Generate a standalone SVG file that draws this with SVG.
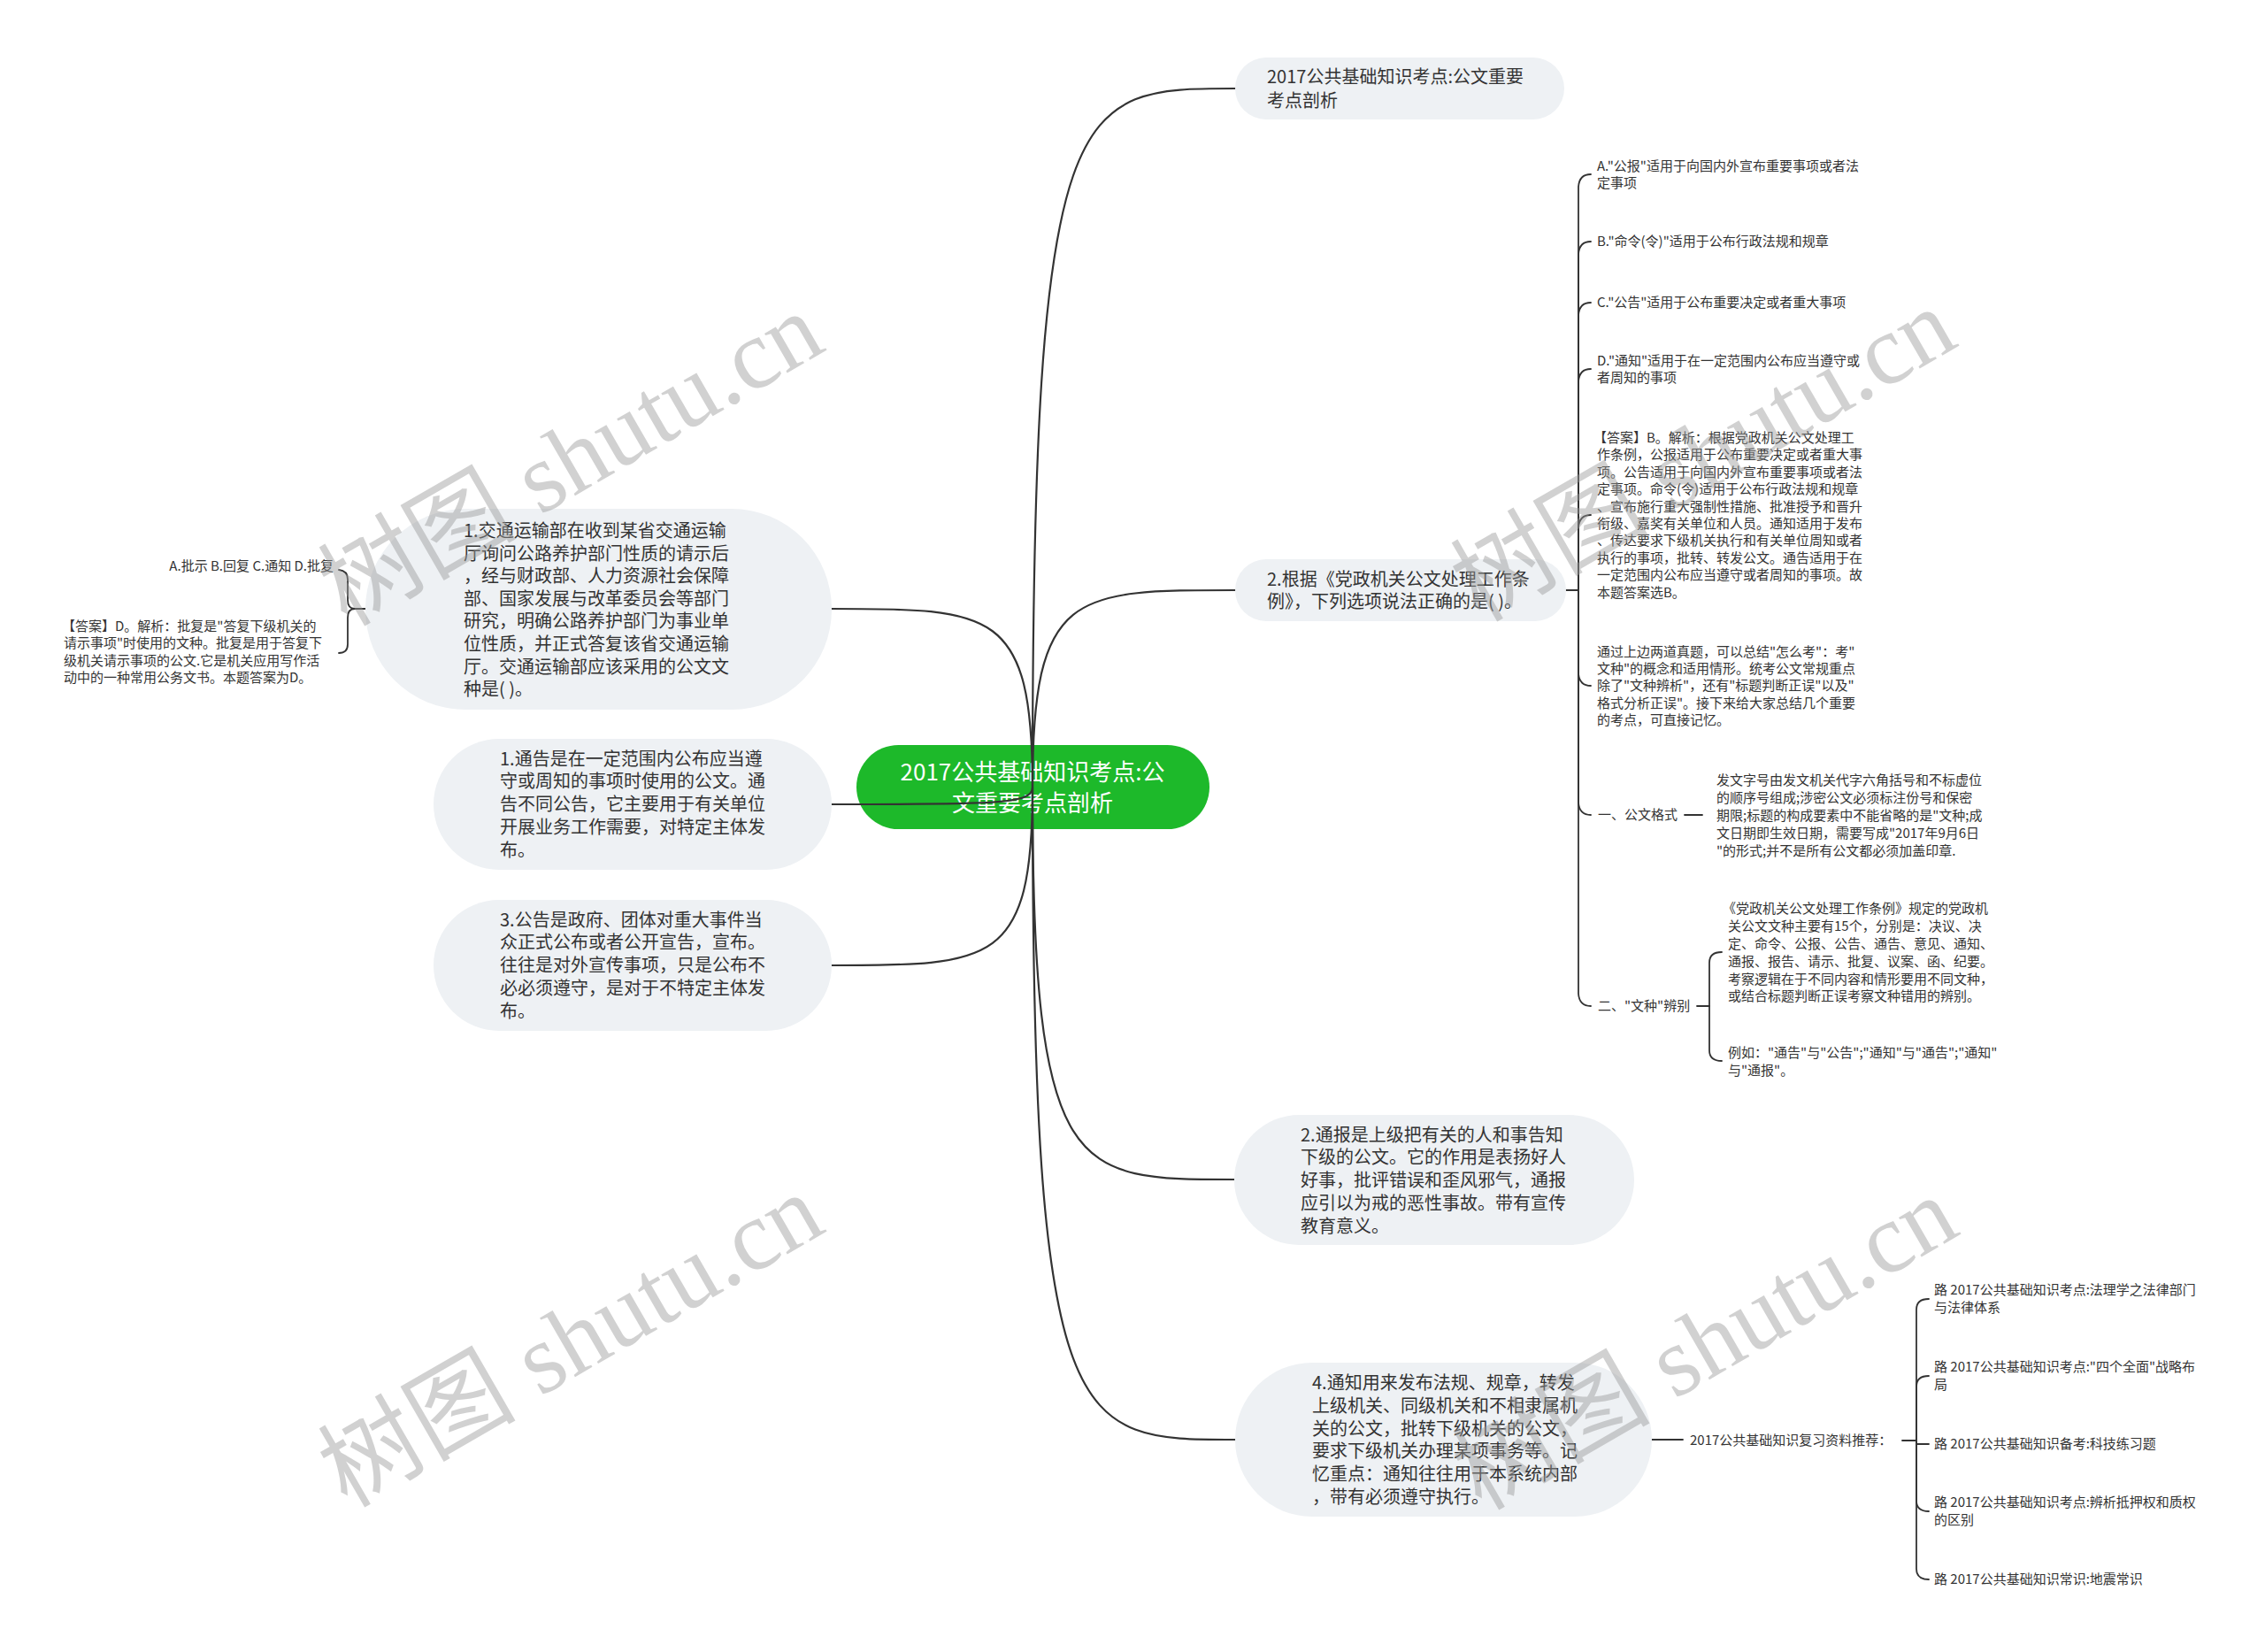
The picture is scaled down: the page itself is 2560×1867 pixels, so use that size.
<svg xmlns="http://www.w3.org/2000/svg" width="2560" height="1867" viewBox="0 0 2560 1867">
<style>
text{font-family:"Noto Sans CJK SC","Liberation Sans",sans-serif;fill:#333}
.n{fill:#eef1f4}
.t20{font-size:20px}
.t15{font-size:15px}
.c{font-size:26px;fill:#fff;text-anchor:middle}
.ln{fill:none;stroke:#333;stroke-width:2.2;stroke-linecap:round}
.sl{fill:none;stroke:#333;stroke-width:1.8;stroke-linecap:round}
.wm{font-family:"Liberation Serif","Noto Sans CJK SC",serif;font-size:112px;fill:#9a9a9a;opacity:.45;text-anchor:middle}
</style>
<rect width="2560" height="1867" fill="#fff"/>
<g id="center">
<rect x="968" y="842" width="399" height="95" rx="47.5" fill="#1db92a"/>
<text class="c" x="1167" y="882">2017公共基础知识考点:公</text>
<text class="c" x="1167" y="917">文重要考点剖析</text>
</g>
<g id="connectors">
<path class="ln" d="M1167 890 C1167 100,1213 100,1396 100"/>
<path class="ln" d="M1167 890 C1167 667,1213 667,1396 667"/>
<path class="ln" d="M1167 890 C1167 1333,1213 1333,1395 1333"/>
<path class="ln" d="M1167 890 C1167 1627,1213 1627,1396 1627"/>
<path class="ln" d="M1167 890 C1167 688,1122 688,940 688"/>
<path class="ln" d="M1167 890 C1167 909,1122 909,940 909"/>
<path class="ln" d="M1167 890 C1167 1091,1122 1091,940 1091"/>
<path class="sl" d="M1770 667 L1784 667"/>
<path class="sl" d="M1784 667 L1784 211 Q1785 197 1798 197"/>
<path class="sl" d="M1784 667 L1784 287 Q1785 273 1798 273"/>
<path class="sl" d="M1784 667 L1784 356 Q1785 342 1798 342"/>
<path class="sl" d="M1784 667 L1784 431 Q1785 417 1798 417"/>
<path class="sl" d="M1784 667 L1784 596 Q1785 582 1798 582"/>
<path class="sl" d="M1784 667 L1784 761 Q1785 775 1798 775"/>
<path class="sl" d="M1784 667 L1784 907 Q1785 921 1798 921"/>
<path class="sl" d="M1784 667 L1784 1123 Q1785 1137 1798 1137"/>
<path class="sl" d="M1904 921 L1924 921"/>
<path class="sl" d="M1918 1137 L1932 1137"/>
<path class="sl" d="M1932 1137 L1932 1088 Q1932 1076 1946 1076"/>
<path class="sl" d="M1932 1137 L1932 1187 Q1932 1199 1946 1199"/>
<path class="sl" d="M1867 1627 L1902 1627"/>
<path class="sl" d="M2150 1628 L2166 1628"/>
<path class="sl" d="M2166 1628 L2166 1480 Q2166 1468 2180 1468"/>
<path class="sl" d="M2166 1628 L2166 1567 Q2166 1555 2180 1555"/>
<path class="sl" d="M2166 1628 L2166 1632 L2180 1632"/>
<path class="sl" d="M2166 1628 L2166 1696 Q2166 1708 2180 1708"/>
<path class="sl" d="M2166 1628 L2166 1773 Q2166 1785 2180 1785"/>
<path class="sl" d="M413 688 L401 688 Q393 688 393 678 L393 655 Q393 645 383 644"/>
<path class="sl" d="M401 688 Q393 688 393 698 L393 728 Q393 738 383 738"/>
</g>
<g id="n-top">
<rect class="n" x="1396" y="65" width="372" height="70" rx="35"/>
<text class="t20" x="1432" y="94">2017公共基础知识考点:公文重要</text>
<text class="t20" x="1432" y="121">考点剖析</text>
</g>
<g id="n-q2">
<rect class="n" x="1396" y="632" width="374" height="70" rx="35"/>
<text class="t20" x="1432" y="662">2.根据《党政机关公文处理工作条</text>
<text class="t20" x="1432" y="687">例》，下列选项说法正确的是( )。</text>
</g>
<g id="n-a">
<text class="t15" x="1805" y="193">A."公报"适用于向国内外宣布重要事项或者法</text>
<text class="t15" x="1805" y="212">定事项</text>
</g>
<g id="n-b"><text class="t15" x="1805" y="278">B."命令(令)"适用于公布行政法规和规章</text></g>
<g id="n-c"><text class="t15" x="1805" y="347">C."公告"适用于公布重要决定或者重大事项</text></g>
<g id="n-d">
<text class="t15" x="1805" y="413">D."通知"适用于在一定范围内公布应当遵守或</text>
<text class="t15" x="1805" y="432">者周知的事项</text>
</g>
<g id="n-ans2">
<text class="t15" x="1801" y="500">【答案】B。解析：根据党政机关公文处理工</text>
<text class="t15" x="1805" y="519">作条例，公报适用于公布重要决定或者重大事</text>
<text class="t15" x="1805" y="539">项。公告适用于向国内外宣布重要事项或者法</text>
<text class="t15" x="1805" y="558">定事项。命令(令)适用于公布行政法规和规章</text>
<text class="t15" x="1805" y="578">、宣布施行重大强制性措施、批准授予和晋升</text>
<text class="t15" x="1805" y="597">衔级、嘉奖有关单位和人员。通知适用于发布</text>
<text class="t15" x="1805" y="616">、传达要求下级机关执行和有关单位周知或者</text>
<text class="t15" x="1805" y="636">执行的事项，批转、转发公文。通告适用于在</text>
<text class="t15" x="1805" y="655">一定范围内公布应当遵守或者周知的事项。故</text>
<text class="t15" x="1805" y="675">本题答案选B。</text>
</g>
<g id="n-sum">
<text class="t15" x="1805" y="742">通过上边两道真题，可以总结"怎么考"：考"</text>
<text class="t15" x="1805" y="761">文种"的概念和适用情形。统考公文常规重点</text>
<text class="t15" x="1805" y="780">除了"文种辨析"，还有"标题判断正误"以及"</text>
<text class="t15" x="1805" y="800">格式分析正误"。接下来给大家总结几个重要</text>
<text class="t15" x="1805" y="819">的考点，可直接记忆。</text>
</g>
<g id="n-fmt"><text class="t15" x="1806" y="926">一、公文格式</text></g>
<g id="n-fmt-c">
<text class="t15" x="1940" y="887">发文字号由发文机关代字六角括号和不标虚位</text>
<text class="t15" x="1940" y="907">的顺序号组成;涉密公文必须标注份号和保密</text>
<text class="t15" x="1940" y="927">期限;标题的构成要素中不能省略的是"文种;成</text>
<text class="t15" x="1940" y="947">文日期即生效日期，需要写成"2017年9月6日</text>
<text class="t15" x="1940" y="967">"的形式;并不是所有公文都必须加盖印章.</text>
</g>
<g id="n-wz"><text class="t15" x="1806" y="1142">二、"文种"辨别</text></g>
<g id="n-wz1">
<text class="t15" x="1947" y="1032">《党政机关公文处理工作条例》规定的党政机</text>
<text class="t15" x="1953" y="1052">关公文文种主要有15个，分别是：决议、决</text>
<text class="t15" x="1953" y="1072">定、命令、公报、公告、通告、意见、通知、</text>
<text class="t15" x="1953" y="1092">通报、报告、请示、批复、议案、函、纪要。</text>
<text class="t15" x="1953" y="1112">考察逻辑在于不同内容和情形要用不同文种，</text>
<text class="t15" x="1953" y="1131">或结合标题判断正误考察文种错用的辨别。</text>
</g>
<g id="n-wz2">
<text class="t15" x="1953" y="1195">例如："通告"与"公告";"通知"与"通告";"通知"</text>
<text class="t15" x="1953" y="1215">与"通报"。</text>
</g>
<g id="n-tb">
<rect class="n" x="1395" y="1260" width="452" height="147" rx="73.5"/>
<text class="t20" x="1470" y="1290">2.通报是上级把有关的人和事告知</text>
<text class="t20" x="1470" y="1315">下级的公文。它的作用是表扬好人</text>
<text class="t20" x="1470" y="1341">好事，批评错误和歪风邪气，通报</text>
<text class="t20" x="1470" y="1367">应引以为戒的恶性事故。带有宣传</text>
<text class="t20" x="1470" y="1393">教育意义。</text>
</g>
<g id="n-tz">
<rect class="n" x="1396" y="1540" width="471" height="174" rx="87"/>
<text class="t20" x="1483" y="1570">4.通知用来发布法规、规章，转发</text>
<text class="t20" x="1483" y="1596">上级机关、同级机关和不相隶属机</text>
<text class="t20" x="1483" y="1622">关的公文，批转下级机关的公文，</text>
<text class="t20" x="1483" y="1647">要求下级机关办理某项事务等。记</text>
<text class="t20" x="1483" y="1673">忆重点：通知往往用于本系统内部</text>
<text class="t20" x="1483" y="1699">，带有必须遵守执行。</text>
</g>
<g id="n-rec"><text class="t15" x="1910" y="1633">2017公共基础知识复习资料推荐：</text></g>
<g id="n-r1">
<text class="t15" x="2186" y="1463">路 2017公共基础知识考点:法理学之法律部门</text>
<text class="t15" x="2186" y="1483">与法律体系</text>
</g>
<g id="n-r2">
<text class="t15" x="2186" y="1550">路 2017公共基础知识考点:"四个全面"战略布</text>
<text class="t15" x="2186" y="1570">局</text>
</g>
<g id="n-r3"><text class="t15" x="2186" y="1637">路 2017公共基础知识备考:科技练习题</text></g>
<g id="n-r4">
<text class="t15" x="2186" y="1703">路 2017公共基础知识考点:辨析抵押权和质权</text>
<text class="t15" x="2186" y="1723">的区别</text>
</g>
<g id="n-r5"><text class="t15" x="2186" y="1790">路 2017公共基础知识常识:地震常识</text></g>
<g id="n-q1">
<rect class="n" x="413" y="575" width="527" height="227" rx="113"/>
<text class="t20" x="524" y="607">1.交通运输部在收到某省交通运输</text>
<text class="t20" x="524" y="633">厅询问公路养护部门性质的请示后</text>
<text class="t20" x="524" y="658">，经与财政部、人力资源社会保障</text>
<text class="t20" x="524" y="684">部、国家发展与改革委员会等部门</text>
<text class="t20" x="524" y="709">研究，明确公路养护部门为事业单</text>
<text class="t20" x="524" y="735">位性质，并正式答复该省交通运输</text>
<text class="t20" x="524" y="761">厅。交通运输部应该采用的公文文</text>
<text class="t20" x="524" y="786">种是( )。</text>
</g>
<g id="n-q1-opt"><text class="t15" x="377" y="645" text-anchor="end">A.批示 B.回复 C.通知 D.批复</text></g>
<g id="n-q1-ans">
<text class="t15" x="70" y="713">【答案】D。解析：批复是"答复下级机关的</text>
<text class="t15" x="72" y="732">请示事项"时使用的文种。批复是用于答复下</text>
<text class="t15" x="72" y="752">级机关请示事项的公文.它是机关应用写作活</text>
<text class="t15" x="72" y="771">动中的一种常用公务文书。本题答案为D。</text>
</g>
<g id="n-tg">
<rect class="n" x="490" y="835" width="450" height="148" rx="74"/>
<text class="t20" x="565" y="865">1.通告是在一定范围内公布应当遵</text>
<text class="t20" x="565" y="890">守或周知的事项时使用的公文。通</text>
<text class="t20" x="565" y="916">告不同公告，它主要用于有关单位</text>
<text class="t20" x="565" y="942">开展业务工作需要，对特定主体发</text>
<text class="t20" x="565" y="968">布。</text>
</g>
<g id="n-gg">
<rect class="n" x="490" y="1017" width="450" height="148" rx="74"/>
<text class="t20" x="565" y="1047">3.公告是政府、团体对重大事件当</text>
<text class="t20" x="565" y="1072">众正式公布或者公开宣告，宣布。</text>
<text class="t20" x="565" y="1098">往往是对外宣传事项，只是公布不</text>
<text class="t20" x="565" y="1124">必必须遵守，是对于不特定主体发</text>
<text class="t20" x="565" y="1150">布。</text>
</g>
<g id="watermarks">
<text class="wm" transform="translate(645 519) rotate(-30)" y="38">树图 shutu.cn</text>
<text class="wm" transform="translate(1925 514) rotate(-30)" y="38">树图 shutu.cn</text>
<text class="wm" transform="translate(645 1515) rotate(-30)" y="38">树图 shutu.cn</text>
<text class="wm" transform="translate(1927 1518) rotate(-30)" y="38">树图 shutu.cn</text>
</g>
</svg>
